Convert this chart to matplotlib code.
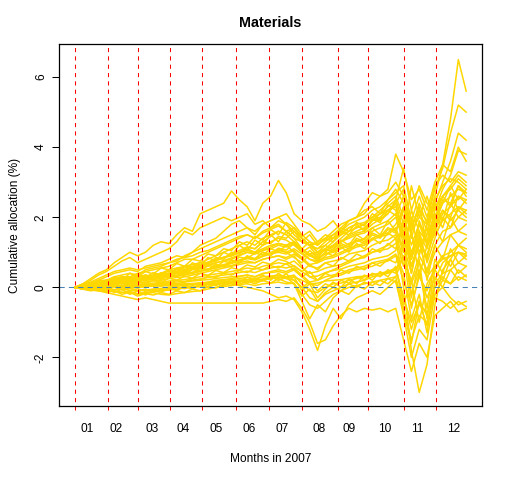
import matplotlib

matplotlib.use('Agg')
import matplotlib.pyplot as plt

plt.rcParams['font.family'] = ['Liberation Sans', 'DejaVu Sans']

# trading day of each sample (every 5th trading day of 2007)
days = list(range(1, 252, 5))

# first trading day of each month (red dashed lines)
month_starts = [1, 22, 41, 62, 82, 104, 125, 146, 169, 188, 211, 232]
month_label_pos = [9, 27.5, 50, 70, 91.5, 112.5, 133.5, 157, 176, 199, 220, 243]
month_labels = ['01', '02', '03', '04', '05', '06', '07', '08', '09', '10', '11', '12']

# cumulative allocation (%) of each stock
s01 = [0, 0.1, 0.25, 0.4, 0.5, 0.7, 0.85, 1.0, 0.9, 1.0, 1.2, 1.3, 1.25, 1.5, 1.7, 1.6, 2.1, 2.2, 2.3, 2.4, 2.75, 2.5, 2.3, 1.9, 2.4, 2.6, 3.05, 2.7, 2.1, 1.9, 1.8, 1.6, 1.7, 1.9, 1.6, 1.9, 2.0, 2.4, 2.7, 2.6, 2.8, 3.8, 3.3, 2.5, 2.8, 2.2, 3.0, 3.5, 3.3, 4.0, 3.6]
s02 = [0, 0.05, 0.1, 0.15, 0.2, 0.25, 0.3, 0.3, 0.4, 0.45, 0.5, 0.55, 0.6, 0.7, 0.8, 0.8, 0.9, 1.0, 1.1, 1.2, 1.3, 1.4, 1.5, 1.4, 1.6, 1.7, 1.9, 1.8, 1.6, 1.4, 1.2, 1.1, 1.3, 1.5, 1.7, 1.9, 2.0, 2.2, 2.3, 2.1, 2.5, 2.8, 2.4, 1.6, 2.0, 1.8, 2.6, 3.5, 4.8, 6.5, 5.6]
s03 = [0, 0.05, 0.1, 0.2, 0.2, 0.3, 0.35, 0.4, 0.35, 0.5, 0.55, 0.6, 0.7, 0.75, 0.9, 1.0, 1.1, 1.2, 1.3, 1.4, 1.5, 1.6, 1.7, 1.5, 1.8, 1.9, 2.0, 2.1, 1.8, 1.5, 1.3, 1.2, 1.4, 1.6, 1.8, 1.9, 2.0, 2.1, 2.4, 2.6, 2.7, 3.0, 2.6, 1.8, 2.2, 1.9, 2.8, 3.4, 4.4, 5.2, 5.0]
s04 = [0, 0.02, 0.05, 0.1, 0.15, 0.2, 0.25, 0.2, 0.3, 0.35, 0.3, 0.4, 0.5, 0.55, 0.6, 0.65, 0.7, 0.8, 0.9, 1.0, 1.1, 1.2, 1.3, 1.2, 1.4, 1.5, 1.6, 1.5, 1.3, 1.1, 0.9, 0.8, 1.0, 1.2, 1.4, 1.6, 1.7, 1.8, 2.0, 2.2, 2.4, 2.6, 2.0, 1.2, 1.8, 1.5, 2.4, 3.0, 3.6, 4.4, 4.2]
s05 = [0, 0.03, 0.06, 0.1, 0.12, 0.15, 0.2, 0.18, 0.25, 0.3, 0.32, 0.35, 0.4, 0.45, 0.5, 0.55, 0.6, 0.7, 0.8, 0.85, 0.9, 1.0, 1.1, 1.0, 1.2, 1.3, 1.4, 1.35, 1.2, 1.0, 0.8, 0.7, 0.9, 1.1, 1.3, 1.5, 1.6, 1.7, 1.9, 2.1, 2.3, 2.5, 1.8, 1.0, 1.6, 1.3, 2.2, 2.8, 3.2, 3.9, 3.8]
s06 = [0, 0.08, 0.2, 0.35, 0.45, 0.6, 0.75, 0.85, 0.7, 0.8, 0.9, 1.0, 1.1, 1.3, 1.6, 1.5, 1.7, 1.8, 1.9, 2.0, 1.9, 2.0, 2.1, 1.8, 1.9, 1.7, 1.8, 1.6, 1.4, 1.3, 1.2, 1.0, 1.1, 1.3, 1.5, 1.7, 1.8, 1.6, 1.9, 2.0, 2.2, 2.3, 1.6, 0.8, 1.5, 1.1, 1.9, 2.5, 2.4, 2.9, 2.7]
s07 = [0, 0.05, 0.12, 0.2, 0.3, 0.4, 0.45, 0.5, 0.45, 0.6, 0.65, 0.7, 0.8, 0.9, 0.85, 1.0, 1.2, 1.3, 1.4, 1.6, 1.8, 1.9, 1.7, 1.6, 1.8, 1.9, 2.0, 1.8, 1.5, 1.3, 1.2, 1.1, 1.2, 1.4, 1.5, 1.6, 1.7, 1.8, 2.0, 1.9, 2.1, 2.4, 1.5, 0.6, 1.2, 0.9, 1.7, 2.2, 2.0, 2.6, 2.4]
s08 = [0, 0.03, 0.08, 0.1, 0.15, 0.18, 0.2, 0.22, 0.2, 0.25, 0.28, 0.3, 0.35, 0.4, 0.42, 0.5, 0.55, 0.6, 0.7, 0.75, 0.8, 0.9, 1.0, 0.95, 1.05, 1.1, 1.2, 1.15, 1.25, 1.05, 0.9, 0.85, 0.95, 1.0, 1.1, 1.25, 1.3, 1.4, 1.6, 1.7, 1.8, 2.0, 1.4, 0.6, 1.3, 0.9, 1.6, 2.1, 2.3, 2.6, 2.5]
s09 = [0, 0.02, 0.05, 0.04, 0.08, 0.1, 0.12, 0.1, 0.12, 0.15, 0.18, 0.2, 0.25, 0.28, 0.3, 0.35, 0.4, 0.45, 0.5, 0.55, 0.6, 0.65, 0.7, 0.7, 0.8, 0.85, 0.9, 0.85, 0.95, 0.8, 0.6, 0.55, 0.7, 0.75, 0.8, 0.95, 1.0, 1.05, 1.2, 1.3, 1.35, 1.5, 0.8, 0.2, 0.9, 0.5, 1.2, 1.6, 1.7, 2.0, 1.9]
s10 = [0, -0.02, 0.0, 0.03, 0.02, 0.05, 0.04, 0.06, 0.03, 0.05, 0.08, 0.1, 0.12, 0.1, 0.15, 0.18, 0.2, 0.22, 0.25, 0.28, 0.3, 0.32, 0.35, 0.3, 0.4, 0.42, 0.45, 0.4, 0.5, 0.3, 0.1, 0.05, 0.2, 0.3, 0.35, 0.45, 0.5, 0.55, 0.6, 0.7, 0.75, 0.9, 0.2, -0.5, 0.3, -0.1, 0.6, 0.9, 1.0, 1.2, 1.1]
s11 = [0, -0.05, -0.08, -0.1, -0.12, -0.1, -0.15, -0.12, -0.18, -0.15, -0.12, -0.1, -0.08, -0.05, -0.02, 0.0, 0.05, 0.08, 0.1, 0.12, 0.15, 0.2, 0.18, 0.15, 0.2, 0.25, 0.3, 0.25, 0.2, 0.0, -0.3, -0.4, -0.2, -0.1, 0.0, 0.1, 0.15, 0.2, 0.3, 0.35, 0.4, 0.5, -0.3, -1.2, -0.4, -0.8, 0.1, 0.4, 0.5, 0.7, 0.6]
s12 = [0, -0.03, -0.05, -0.1, -0.15, -0.2, -0.25, -0.3, -0.35, -0.3, -0.35, -0.4, -0.45, -0.45, -0.45, -0.45, -0.45, -0.45, -0.45, -0.45, -0.45, -0.45, -0.45, -0.45, -0.45, -0.4, -0.35, -0.4, -0.3, -0.6, -1.0, -1.6, -1.5, -1.1, -0.8, -0.6, -0.7, -0.6, -0.65, -0.6, -0.7, -0.6, -1.5, -2.4, -1.6, -2.0, -0.8, -0.6, -0.4, -0.7, -0.6]
s13 = [0, 0.02, 0.0, -0.02, 0.0, 0.02, 0.05, 0.03, 0.0, 0.02, 0.05, 0.03, 0.08, 0.1, 0.05, 0.1, 0.08, 0.12, 0.1, 0.15, 0.1, 0.05, 0.0, -0.05, -0.1, -0.2, -0.3, -0.25, -0.35, -0.7, -1.2, -1.8, -1.1, -0.6, -0.9, -0.5, -0.3, -0.2, -0.1, -0.2, 0.0, 0.2, -0.8, -2.0, -1.2, -1.5, -0.2, 0.0, -0.3, -0.5, -0.4]
s14 = [0, 0.05, 0.08, 0.1, 0.12, 0.15, 0.18, 0.15, 0.2, 0.22, 0.25, 0.28, 0.3, 0.32, 0.35, 0.4, 0.45, 0.5, 0.55, 0.6, 0.62, 0.7, 0.75, 0.7, 0.8, 0.85, 0.9, 0.8, 0.9, 0.6, 0.3, 0.2, 0.4, 0.5, 0.6, 0.7, 0.8, 0.9, 1.0, 1.1, 1.2, 1.4, 0.0, -1.8, -3.0, -2.2, -0.5, 0.5, 0.8, 1.2, 1.0]
s15 = [0, 0.04, 0.06, 0.08, 0.1, 0.14, 0.16, 0.15, 0.18, 0.2, 0.24, 0.26, 0.3, 0.34, 0.36, 0.42, 0.48, 0.52, 0.6, 0.65, 0.7, 0.78, 0.85, 0.8, 0.9, 1.0, 1.05, 1.0, 1.1, 0.95, 0.8, 0.75, 0.85, 0.9, 1.0, 1.1, 1.2, 1.25, 1.4, 1.5, 1.55, 1.8, 2.2, 1.6, 2.4, 1.8, 2.3, 2.6, 2.8, 3.1, 2.9]
s16 = [0, 0.05, 0.1, 0.12, 0.15, 0.2, 0.22, 0.25, 0.22, 0.28, 0.3, 0.35, 0.4, 0.45, 0.5, 0.55, 0.6, 0.68, 0.75, 0.85, 0.95, 1.05, 1.15, 1.1, 1.3, 1.45, 1.6, 1.5, 1.7, 1.4, 1.2, 1.3, 1.4, 1.5, 1.6, 1.8, 1.9, 2.0, 2.2, 2.3, 2.5, 2.7, 2.9, 1.9, 2.6, 2.0, 2.9, 3.2, 3.0, 3.3, 3.2]
s17 = [0, 0.0, 0.03, 0.05, 0.06, 0.08, 0.06, 0.1, 0.08, 0.1, 0.12, 0.14, 0.18, 0.2, 0.22, 0.26, 0.3, 0.35, 0.38, 0.42, 0.45, 0.5, 0.55, 0.52, 0.6, 0.65, 0.7, 0.66, 0.75, 0.55, 0.4, 0.45, 0.55, 0.6, 0.65, 0.75, 0.8, 0.85, 1.0, 1.05, 1.1, 1.25, 1.6, 0.9, 1.8, 1.2, 1.5, 1.9, 2.1, 2.3, 2.2]
s18 = [0, -0.02, -0.04, -0.03, -0.05, -0.06, -0.05, -0.08, -0.1, -0.08, -0.05, -0.03, 0.0, 0.03, 0.05, 0.08, 0.12, 0.15, 0.2, 0.22, 0.25, 0.3, 0.35, 0.3, 0.38, 0.45, 0.5, 0.45, 0.55, 0.35, 0.15, 0.2, 0.3, 0.35, 0.4, 0.5, 0.55, 0.6, 0.7, 0.75, 0.8, 0.95, 0.4, -0.9, -0.2, -1.3, 0.2, 0.7, 0.9, 1.0, 0.9]
s19 = [0, 0.03, 0.05, 0.08, 0.1, 0.12, 0.15, 0.14, 0.16, 0.2, 0.22, 0.25, 0.3, 0.32, 0.38, 0.42, 0.46, 0.52, 0.56, 0.62, 0.68, 0.75, 0.82, 0.78, 0.88, 0.95, 1.0, 0.95, 1.05, 0.85, 0.65, 0.7, 0.8, 0.85, 0.95, 1.05, 1.15, 1.2, 1.35, 1.45, 1.5, 1.7, 1.1, 2.0, 1.0, 1.5, 2.0, 2.4, 2.6, 2.8, 2.7]
s20 = [0, -0.03, -0.06, -0.08, -0.1, -0.12, -0.14, -0.16, -0.2, -0.18, -0.15, -0.2, -0.22, -0.18, -0.15, -0.12, -0.1, -0.05, 0.0, 0.02, 0.05, 0.08, 0.1, 0.05, 0.1, 0.12, 0.15, 0.1, 0.12, -0.2, -0.5, -0.6, -0.4, -0.2, -0.1, 0.0, 0.05, 0.1, 0.15, 0.2, 0.25, 0.3, -0.6, -1.5, -0.8, -1.0, -0.2, 0.2, 0.1, 0.3, 0.2]
s21 = [0, 0.06, 0.15, 0.25, 0.35, 0.45, 0.5, 0.55, 0.5, 0.55, 0.6, 0.65, 0.7, 0.8, 0.85, 0.9, 1.0, 1.05, 1.15, 1.25, 1.35, 1.45, 1.5, 1.4, 1.55, 1.65, 1.75, 1.6, 1.7, 1.4, 1.2, 1.25, 1.35, 1.4, 1.55, 1.7, 1.8, 1.85, 2.0, 2.1, 2.2, 2.4, 2.8, 1.4, 2.2, 1.6, 2.5, 2.9, 3.1, 3.0, 2.8]
s22 = [0, 0.01, 0.02, 0.0, 0.03, 0.02, 0.0, -0.02, 0.0, 0.02, 0.03, 0.05, 0.04, 0.06, 0.08, 0.1, 0.12, 0.14, 0.18, 0.2, 0.22, 0.25, 0.28, 0.25, 0.3, 0.32, 0.35, 0.3, 0.35, 0.1, -0.1, -0.15, 0.0, 0.1, 0.12, 0.2, 0.25, 0.3, 0.35, 0.4, 0.45, 0.55, -0.3, -1.0, -0.5, -0.7, -0.3, -0.4, -0.6, -0.4, -0.55]
s23 = [0, 0.04, 0.1, 0.15, 0.2, 0.25, 0.3, 0.28, 0.32, 0.3, 0.35, 0.4, 0.45, 0.5, 0.55, 0.6, 0.66, 0.72, 0.8, 0.86, 0.9, 0.98, 1.05, 1.0, 1.1, 1.2, 1.25, 1.2, 1.3, 1.1, 0.95, 1.0, 1.1, 1.2, 1.3, 1.4, 1.5, 1.55, 1.7, 1.8, 1.9, 2.1, 1.2, 0.4, 1.4, 0.8, 1.8, 2.2, 1.9, 2.2, 2.0]
s24 = [0, 0.0, -0.02, 0.01, 0.03, 0.04, 0.05, 0.04, 0.06, 0.07, 0.09, 0.1, 0.13, 0.15, 0.17, 0.2, 0.24, 0.28, 0.32, 0.35, 0.38, 0.42, 0.46, 0.42, 0.5, 0.55, 0.6, 0.55, 0.62, 0.45, 0.3, 0.32, 0.42, 0.48, 0.52, 0.6, 0.65, 0.7, 0.8, 0.85, 0.9, 1.05, 1.8, 0.6, 1.3, 0.4, 1.0, 1.3, 1.5, 1.6, 1.5]
s25 = [0, 0.01, 0.02, 0.02, 0.03, 0.03, 0.04, 0.04, 0.05, 0.05, 0.06, 0.07, 0.08, 0.09, 0.1, 0.11, 0.12, 0.13, 0.15, 0.16, 0.18, 0.2, 0.22, 0.2, 0.24, 0.26, 0.28, 0.26, 0.3, 0.2, 0.1, 0.12, 0.18, 0.2, 0.22, 0.26, 0.3, 0.32, 0.36, 0.4, 0.42, 0.5, 0.9, 0.1, 0.7, 0.3, 0.6, 0.8, 0.9, 1.0, 0.95]
s26 = [0, 0.02, 0.06, 0.1, 0.14, 0.16, 0.2, 0.22, 0.2, 0.24, 0.28, 0.32, 0.38, 0.42, 0.46, 0.52, 0.58, 0.64, 0.7, 0.76, 0.84, 0.92, 1.0, 0.96, 1.06, 1.15, 1.25, 1.2, 1.3, 1.1, 0.9, 0.95, 1.05, 1.15, 1.3, 1.45, 1.55, 1.6, 1.8, 1.95, 2.1, 2.5, 3.4, 2.2, 2.9, 2.4, 2.2, 2.6, 2.9, 3.2, 3.0]
s27 = [0, 0.08, 0.03, 0.15, 0.1, 0.22, 0.15, 0.3, 0.2, 0.35, 0.28, 0.42, 0.35, 0.55, 0.45, 0.7, 0.6, 0.85, 0.75, 1.0, 0.9, 1.2, 1.05, 1.35, 1.2, 1.5, 1.3, 1.6, 1.4, 1.1, 1.3, 1.0, 1.2, 1.05, 1.35, 1.2, 1.5, 1.35, 1.7, 1.5, 1.9, 1.6, 2.3, 1.5, 0.9, 1.8, 2.4, 1.9, 2.7, 2.2, 2.5]
s28 = [0, -0.06, 0.02, -0.1, -0.02, -0.15, -0.05, -0.2, -0.1, -0.22, -0.08, -0.15, 0.0, -0.1, 0.05, -0.05, 0.12, 0.02, 0.18, 0.08, 0.25, 0.12, 0.3, 0.18, 0.35, 0.2, 0.4, 0.25, 0.3, -0.1, 0.1, -0.3, -0.05, 0.15, 0.0, 0.25, 0.1, 0.35, 0.2, 0.45, 0.3, 0.6, -0.5, 0.2, -1.0, 0.1, 0.5, 0.2, 0.8, 0.4, 0.6]
s29 = [0, 0.04, 0.1, 0.05, 0.15, 0.08, 0.2, 0.12, 0.25, 0.18, 0.3, 0.22, 0.38, 0.3, 0.45, 0.38, 0.55, 0.48, 0.65, 0.58, 0.78, 0.7, 0.9, 0.8, 1.0, 0.9, 1.1, 1.0, 0.85, 0.7, 0.95, 0.75, 1.0, 0.9, 1.15, 1.0, 1.25, 1.1, 1.4, 1.25, 1.55, 1.4, 0.6, 1.6, 0.3, 1.2, 1.7, 1.3, 2.0, 1.6, 1.8]
s30 = [0, 0.02, -0.03, 0.05, 0.0, 0.08, 0.02, 0.1, 0.04, 0.12, 0.06, 0.15, 0.1, 0.2, 0.15, 0.25, 0.2, 0.32, 0.28, 0.4, 0.35, 0.48, 0.42, 0.55, 0.5, 0.62, 0.55, 0.68, 0.5, 0.3, 0.45, 0.2, 0.4, 0.3, 0.5, 0.4, 0.6, 0.5, 0.7, 0.6, 0.8, 0.7, 1.3, -0.2, 0.5, -0.6, 0.8, 0.4, 1.1, 0.7, 0.9]
s31 = [0, 0.05, 0.12, 0.08, 0.2, 0.15, 0.28, 0.2, 0.35, 0.28, 0.42, 0.35, 0.5, 0.45, 0.6, 0.55, 0.72, 0.65, 0.85, 0.8, 1.0, 0.95, 1.15, 1.1, 1.3, 1.25, 1.45, 1.4, 1.6, 1.3, 1.5, 1.2, 1.4, 1.3, 1.6, 1.5, 1.75, 1.65, 1.95, 1.85, 2.2, 2.05, 2.6, 1.7, 2.3, 1.2, 2.0, 2.6, 2.3, 2.9, 2.6]
s32 = [0, -0.02, 0.04, -0.05, 0.02, -0.08, 0.0, -0.1, -0.04, -0.12, -0.06, -0.1, -0.02, -0.08, 0.02, -0.04, 0.06, 0.0, 0.1, 0.04, 0.14, 0.08, 0.18, 0.1, 0.2, 0.12, 0.25, 0.15, 0.1, -0.25, -0.05, -0.4, -0.15, 0.0, -0.1, 0.1, 0.0, 0.15, 0.05, 0.2, 0.1, 0.3, 0.9, -0.6, 0.4, -0.3, 0.3, 0.0, 0.5, 0.2, 0.35]
s33 = [0, 0.06, 0.02, 0.12, 0.06, 0.18, 0.1, 0.24, 0.15, 0.3, 0.22, 0.36, 0.3, 0.44, 0.38, 0.52, 0.48, 0.62, 0.58, 0.74, 0.7, 0.86, 0.82, 0.98, 0.92, 1.1, 1.02, 1.2, 1.0, 0.8, 1.05, 0.85, 1.1, 1.0, 1.25, 1.15, 1.4, 1.3, 1.55, 1.45, 1.7, 1.6, 1.0, 2.2, 1.6, 0.7, 1.4, 2.0, 1.7, 2.3, 2.1]
s34 = [0, 0.03, -0.02, 0.0, -0.05, 0.02, -0.08, -0.02, -0.1, -0.05, -0.12, -0.06, -0.08, 0.0, -0.04, 0.05, 0.0, 0.1, 0.05, 0.15, 0.1, 0.2, 0.15, 0.25, 0.18, 0.3, 0.2, 0.28, 0.1, -0.4, -0.9, -0.5, -0.7, -0.3, -0.1, -0.2, 0.05, -0.05, 0.15, 0.05, 0.25, 0.15, -0.7, -1.6, -0.4, -1.1, 0.0, 0.3, 0.1, 0.5, 0.3]
s35 = [0, 0.1, 0.05, 0.2, 0.12, 0.3, 0.2, 0.4, 0.3, 0.45, 0.38, 0.55, 0.5, 0.68, 0.6, 0.8, 0.75, 0.95, 0.9, 1.1, 1.05, 1.3, 1.2, 1.45, 1.35, 1.65, 1.5, 1.85, 1.7, 1.45, 1.6, 1.3, 1.5, 1.4, 1.7, 1.6, 1.85, 1.75, 2.1, 1.95, 2.35, 2.2, 1.4, 2.9, 2.0, 2.6, 1.8, 2.4, 2.9, 2.5, 2.8]
s36 = [0, 0.03, 0.07, 0.02, 0.1, 0.05, 0.14, 0.08, 0.16, 0.1, 0.2, 0.14, 0.26, 0.2, 0.32, 0.26, 0.4, 0.34, 0.48, 0.42, 0.56, 0.5, 0.64, 0.58, 0.72, 0.66, 0.8, 0.74, 0.6, 0.45, 0.65, 0.5, 0.7, 0.6, 0.85, 0.75, 0.95, 0.85, 1.1, 1.0, 1.25, 1.1, 1.9, 0.4, 1.5, 0.2, 1.2, 0.8, 1.5, 1.2, 1.4]
s37 = [0, -0.05, -0.1, -0.06, -0.15, -0.1, -0.2, -0.14, -0.25, -0.18, -0.22, -0.15, -0.2, -0.1, -0.15, -0.05, -0.1, 0.02, -0.02, 0.1, 0.05, 0.18, 0.12, 0.25, 0.2, 0.32, 0.26, 0.38, 0.2, 0.0, 0.15, -0.1, 0.1, 0.0, 0.2, 0.12, 0.3, 0.22, 0.4, 0.3, 0.5, 0.4, 1.2, -0.3, 0.8, -0.9, 0.5, 0.9, 0.6, 1.0, 0.8]
s38 = [0, 0.07, 0.14, 0.1, 0.2, 0.14, 0.25, 0.18, 0.3, 0.22, 0.34, 0.28, 0.4, 0.34, 0.48, 0.42, 0.56, 0.5, 0.66, 0.6, 0.76, 0.7, 0.88, 0.82, 1.0, 0.94, 1.12, 1.06, 1.25, 1.0, 1.15, 0.9, 1.1, 1.0, 1.2, 1.1, 1.35, 1.25, 1.5, 1.4, 1.65, 1.55, 2.3, 0.8, 1.9, 1.3, 2.1, 1.7, 2.4, 2.0, 2.2]

stocks = [s01, s02, s03, s04, s05, s06, s07, s08, s09, s10, s11, s12, s13,
          s14, s15, s16, s17, s18, s19, s20, s21, s22, s23, s24, s25, s26,
          s27, s28, s29, s30, s31, s32, s33, s34, s35, s36, s37, s38]

fig = plt.figure(figsize=(5.12, 4.8), dpi=100)
ax = fig.add_axes([0.116, 0.154, 0.825, 0.754])

for s in stocks:
    ax.plot(days, s, color='gold', lw=1.1)

for d in month_starts:
    ax.axvline(d, ymin=-0.012, ymax=1, color='red', lw=0.75,
               linestyle=(0, (4, 4)), clip_on=False)
ax.axhline(0, color='#4682B4', lw=0.75, linestyle=(0, (5, 4)))

ax.set_xlim(-9, 261)
ax.set_ylim(-3.39, 6.94)
ax.set_xticks(month_label_pos)
ax.set_xticklabels(month_labels)
ax.tick_params(axis='x', length=0, pad=12, labelsize=8.6)
ax.set_yticks([-2, 0, 2, 4, 6])
ax.set_yticklabels(['-2', '0', '2', '4', '6'], rotation=90, va='center')
ax.tick_params(axis='y', length=5, width=0.75, pad=4, labelsize=8.6)
for sp in ax.spines.values():
    sp.set_linewidth(0.9)

ax.set_title('Materials', fontsize=10.4, fontweight='bold', pad=12)
ax.set_xlabel('Months in 2007', fontsize=8.6, labelpad=13)
ax.set_ylabel('Cumulative allocation (%)', fontsize=8.6, labelpad=10)

fig.savefig('out.png', dpi=100)
